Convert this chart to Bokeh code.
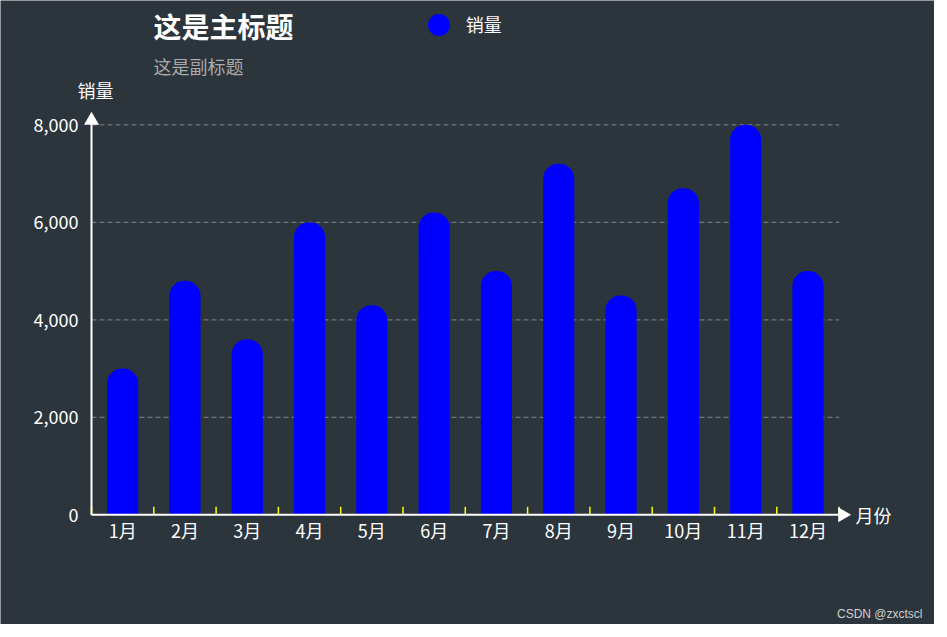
import math
from bokeh.plotting import figure
from bokeh.models import Range1d, Legend, LegendItem, ColumnDataSource
from bokeh.core.properties import value
from bokeh.embed import file_html
from bokeh.resources import INLINE

# ---------------- data ----------------
months = ["1月", "2月", "3月", "4月", "5月", "6月",
          "7月", "8月", "9月", "10月", "11月", "12月"]
sales = [3000, 4800, 3600, 6000, 4300, 6200, 5000, 7200, 4500, 6700, 8000, 5000]
y_ticks = [0, 2000, 4000, 6000, 8000]
title_text = "这是主标题"
subtitle_text = "这是副标题"
series_name = "销量"
x_name = "月份"
y_name = "销量"
watermark = "CSDN @zxctscl"

# ---------------- style / geometry ----------------
BG = "#2c343c"
FONT = "Noto Sans CJK SC"
BAR = "#0000ff"

W, H = 934, 624
OFF = 8                      # page margin
frame_l = OFF                # window px of frame left
frame_b = OFF + H            # window px of frame bottom

axis_x_px = 99.0             # window px of y axis
axis_y_px = 522.3            # window px of x axis (value 0)
top_tick_px = 132.3          # window px of top tick value
n = len(months)
band_px = (846.6 - axis_x_px) / n
unit_px = (axis_y_px - top_tick_px) / y_ticks[-1]

x_start = 0.5 - (axis_x_px - frame_l) / band_px
x_end = x_start + W / band_px
y_start = -(frame_b - axis_y_px) / unit_px
y_end = y_start + H / unit_px


def wx(px):
    return x_start + (px - frame_l) / band_px


def wy(py):
    return y_start + (frame_b - py) / unit_px


xs = [i + 1 for i in range(n)]
bounds = [i + 0.5 for i in range(n + 1)]
x_lo, x_hi = bounds[0], bounds[-1]

p = figure(width=W, height=H, x_range=Range1d(x_start, x_end),
           y_range=Range1d(y_start, y_end), output_backend="svg",
           toolbar_location=None, title=None,
           x_axis_location=None, y_axis_location=None,
           min_border=0)
p.background_fill_color = BG
p.border_fill_color = BG
p.outline_line_color = None
p.grid.visible = False

# dashed split lines
grid_ys = y_ticks[1:]
p.segment(x0=[x_lo] * len(grid_ys), y0=grid_ys, x1=[x_hi] * len(grid_ys), y1=grid_ys,
          line_color="#70757a", line_width=1.2, line_dash="5 3")

# bars
p.vbar(x=xs, top=sales, bottom=0, width=0.5, fill_color=BAR, line_color=None,
       border_radius=(15, 15, 0, 0))

# yellow ticks between categories
tick_len = 8 / unit_px
p.segment(x0=bounds, y0=[0] * len(bounds), x1=bounds, y1=[tick_len] * len(bounds),
          line_color="#ffff00", line_width=1.5)

# axis lines with arrows
y_arrow = y_ticks[-1] + 4.5 / unit_px
x_arrow = x_hi + 3.4 / band_px
p.segment(x0=[x_lo, x_lo], y0=[0, 0], x1=[x_lo, x_arrow], y1=[y_arrow, 0],
          line_color="#ffffff", line_width=2)
p.scatter(x=[x_lo], y=[y_arrow], marker="triangle", size=15,
          fill_color="#ffffff", line_color=None)
p.scatter(x=[x_arrow], y=[0], marker="triangle", size=15, angle=-math.pi / 2,
          fill_color="#ffffff", line_color=None)

# tick labels
p.text(x=[wx(86)] * len(y_ticks), y=y_ticks, text=[f"{v:,}" for v in y_ticks],
       text_font=value(FONT), text_font_size="18px", text_color="#ffffff",
       text_baseline="middle", text_align="right")
p.text(x=xs, y=[wy(537)] * n, text=months,
       text_font=value(FONT), text_font_size="18px", text_color="#ffffff",
       text_baseline="middle", text_align="center")

# axis names
p.text(x=[wx(863)], y=[0], text=[x_name], text_font=value(FONT),
       text_font_size="18px", text_color="#ffffff", text_baseline="middle",
       text_align="left")
p.text(x=[wx(103)], y=[wy(97)], text=[y_name], text_font=value(FONT),
       text_font_size="18px", text_color="#ffffff", text_baseline="middle",
       text_align="center")

# titles
p.text(x=[wx(161)], y=[wy(33)], text=[title_text], text_font=value(FONT),
       text_font_size="28px", text_font_style="bold", text_color="#ffffff",
       text_baseline="middle", text_align="left")
p.text(x=[wx(161)], y=[wy(73.5)], text=[subtitle_text], text_font=value(FONT),
       text_font_size="18px", text_color="#aaaaaa",
       text_baseline="middle", text_align="left")

# legend (circle symbol)
leg_src = ColumnDataSource(data=dict(x=[float("nan")], y=[float("nan")]))
leg_r = p.scatter(x="x", y="y", source=leg_src, marker="circle",
                  fill_color=BAR, line_color=None)
legend = Legend(items=[LegendItem(label=series_name, renderers=[leg_r])],
                location=(418.7 - frame_l, frame_b - 59.7),
                glyph_width=55, glyph_height=55, label_standoff=0,
                padding=0, margin=0, background_fill_alpha=0,
                border_line_color=None, label_text_color="#ffffff",
                label_text_font=FONT, label_text_font_size="18px")
p.add_layout(legend)

# watermark
p.text(x=[wx(930)], y=[wy(621)], text=[watermark],
       text_font=value("Liberation Sans"), text_font_size="12px",
       text_color="#d0d0d0", text_baseline="middle", text_align="right")

open("out.html", "w").write(file_html(p, INLINE))
